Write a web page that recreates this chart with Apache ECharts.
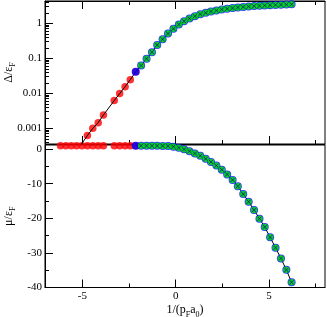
<!DOCTYPE html>
<html><head><meta charset="utf-8">
<script src="https://cdn.jsdelivr.net/npm/echarts@6/dist/echarts.min.js"></script>
<style>html,body{margin:0;padding:0;background:#fff}#c{width:327px;height:317px}</style>
</head><body><div id="c"></div>
<script>
// ---- data ----
const xRed = [-6.17,-5.88,-5.59,-5.31,-5.02,-4.73,-4.44,-4.15,-3.87,-3.29,-3.00,-2.71,-2.43,-2.14];
const deltaRed = [null,null,null,null,null,0.00062,0.0010,0.00145,0.0024,0.0062,0.0098,0.0155,0.0245,0.041];
const muRed = [1.0,1.0,1.0,1.0,1.0,1.0,1.0,1.0,1.0,1.0,1.0,1.0,1.0,0.99];
const xCross = [-2.14,-1.85,-1.56,-1.27,-0.99,-0.70,-0.41,-0.12,0.17,0.45,0.74,1.03,1.32,1.61,1.89,2.18,2.47,2.76,3.05,3.33,3.62,3.91,4.20,4.49,4.77,5.06,5.35,5.64,5.93,6.21];
const deltaCross = [0.041,0.062,0.097,0.15,0.24,0.35,0.51,0.70,0.93,1.15,1.38,1.60,1.82,2.00,2.18,2.33,2.48,2.60,2.72,2.84,2.94,3.02,3.10,3.17,3.24,3.30,3.36,3.41,3.45,3.49];
const muCross = [0.99,0.98,0.97,0.96,0.95,0.94,0.90,0.72,0.42,-0.05,-0.60,-1.25,-1.90,-2.80,-3.70,-4.75,-5.95,-7.30,-8.90,-10.7,-13.0,-15.2,-17.6,-20.1,-22.5,-25.5,-28.5,-31.6,-34.9,-38.5];
const lineStartX = -5.05, lineStartDelta = 0.00035;
const xMajorTicks = [-5,0,5];
const xMinorTicks = [-2.5,2.5,7.5];
const deltaMajorTicks = [0.001,0.01,0.1,1];
const deltaTickLabels = ['0.001','0.01','0.1','1'];
const deltaMinorTicks = [0.0004,0.0005,0.0006,0.0007,0.0008,0.0009,0.002,0.003,0.004,0.005,0.006,0.007,0.008,0.009,0.02,0.03,0.04,0.05,0.06,0.07,0.08,0.09,0.2,0.3,0.4,0.5,0.6,0.7,0.8,0.9,2,3,4];
const muMajorTicks = [-40,-30,-20,-10,0];
const muMinorTicks = [-35,-25,-15,-5];

// ---- chart ----
const FONT = 'Liberation Serif';
const LBL = 11;
const X_MIN = -7, X_MAX = 8;
const D_MIN = 0.000356, D_MAX = 4.34;
const M_MIN = -40, M_MAX = 1.2;

const richName = {a: {fontFamily: FONT, fontSize: 12, color: '#000'}, b: {fontFamily: FONT, fontSize: 8, color: '#000', verticalAlign: 'bottom', lineHeight: 17}};

function xAx(grid, pos, ticks, len, showLine, labels, name) {
  return {
    type: 'value', gridIndex: grid, position: pos, min: X_MIN, max: X_MAX,
    axisLine: {show: showLine, onZero: false, lineStyle: {color: '#000', width: 1}},
    axisTick: {show: true, inside: true, length: len, customValues: ticks, lineStyle: {color: '#000', width: 1}},
    axisLabel: labels ? {show: true, customValues: ticks, margin: 3, color: '#000', fontFamily: FONT, fontSize: LBL} : {show: false},
    splitLine: {show: false},
    name: name || '', nameLocation: 'middle', nameGap: 14, nameMoveOverlap: false,
    nameTextStyle: {color: '#000', fontFamily: FONT, fontSize: 12, rich: richName}
  };
}
function yAx(grid, type, min, max, ticks, len, showLine, labels, labelTexts, name) {
  return {
    type: type, gridIndex: grid, position: 'left', min: min, max: max, logBase: 10,
    axisLine: {show: showLine, onZero: false, lineStyle: {color: '#000', width: 1}},
    axisTick: {show: true, inside: true, length: len, customValues: ticks, lineStyle: {color: '#000', width: 1}},
    axisLabel: labels ? {show: true, customValues: ticks, margin: 3, color: '#000', fontFamily: FONT, fontSize: LBL,
      formatter: function (v) {
        if (labelTexts) {
          let best = 0, bd = Infinity;
          ticks.forEach((t, i) => { const d = Math.abs(Math.log10(t) - Math.log10(v)); if (d < bd) { bd = d; best = i; } });
          return labelTexts[best];
        }
        return String(v);
      }} : {show: false},
    splitLine: {show: false},
    name: name || '', nameLocation: 'middle', nameGap: 28, nameRotate: 90, nameMoveOverlap: false,
    nameTextStyle: {color: '#000', fontFamily: FONT, fontSize: 12, rich: richName}
  };
}

const redTop = xRed.map((x, i) => [x, deltaRed[i]]).filter(p => p[1] !== null);
const redBot = xRed.map((x, i) => [x, muRed[i]]);
const crossTop = xCross.map((x, i) => [x, deltaCross[i]]);
const crossBot = xCross.map((x, i) => [x, muCross[i]]);
const lineTop = [[lineStartX, lineStartDelta]].concat(redTop, crossTop.slice(1));

const xPath = 'path://M0,0L10,10M10,0L0,10';

function markerSeries(xi, yi, red, cross) {
  return [
    {type: 'scatter', xAxisIndex: xi, yAxisIndex: yi, data: red, symbol: 'circle', symbolSize: 7.5, clip: false,
      itemStyle: {color: '#ff0000'}, silent: true, z: 2},
    {type: 'scatter', xAxisIndex: xi, yAxisIndex: yi, data: cross, symbol: 'circle', symbolSize: 8, clip: false,
      itemStyle: {color: '#0000ff'}, silent: true, z: 4},
    {type: 'scatter', xAxisIndex: xi, yAxisIndex: yi, data: cross.slice(1), symbol: 'circle', symbolSize: 6.5, clip: false,
      itemStyle: {color: '#00ee00'}, silent: true, z: 5},
    {type: 'scatter', xAxisIndex: xi, yAxisIndex: yi, data: cross.slice(1), symbol: xPath, symbolSize: 4, clip: false,
      itemStyle: {color: 'none', borderColor: '#000080', borderWidth: 0.8}, silent: true, z: 6}
  ];
}

const option = {
  animation: false,
  backgroundColor: '#fff',
  grid: [
    {left: 45, right: 2, top: 1, height: 143, outerBoundsMode: 'none', containLabel: false, show: true, borderColor: '#000', borderWidth: 1, backgroundColor: 'transparent'},
    {left: 45, right: 2, top: 145, height: 142.5, outerBoundsMode: 'none', containLabel: false, show: true, borderColor: '#000', borderWidth: 1, backgroundColor: 'transparent'}
  ],
  xAxis: [
    xAx(0, 'bottom', xMajorTicks, 8, true, false),
    xAx(0, 'bottom', xMinorTicks, 4, false, false),
    xAx(0, 'top', xMajorTicks, 8, true, false),
    xAx(0, 'top', xMinorTicks, 4, false, false),
    xAx(1, 'bottom', xMajorTicks, 8, true, true, '{a|1/(p}{b|F}{a|a}{b|0}{a|)}'),
    xAx(1, 'bottom', xMinorTicks, 4, false, false)
  ],
  yAxis: [
    yAx(0, 'log', D_MIN, D_MAX, deltaMajorTicks, 8, true, true, deltaTickLabels, '{a|Δ/ε}{b|F}'),
    yAx(0, 'log', D_MIN, D_MAX, deltaMinorTicks, 4, false, false),
    yAx(1, 'value', M_MIN, M_MAX, muMajorTicks, 8, true, true, null, '{a|μ/ε}{b|F}'),
    yAx(1, 'value', M_MIN, M_MAX, muMinorTicks, 4, false, false)
  ],
  series: [].concat(
    markerSeries(0, 0, redTop, crossTop),
    [{type: 'line', xAxisIndex: 0, yAxisIndex: 0, data: lineTop, symbol: 'none', clip: true,
      lineStyle: {color: '#000', width: 1}, silent: true, z: 3}],
    markerSeries(4, 2, redBot, crossBot),
    [{type: 'line', xAxisIndex: 4, yAxisIndex: 2, data: crossBot, symbol: 'none', clip: true,
      lineStyle: {color: '#000', width: 1}, silent: true, z: 3}]
  )
};
const chart = echarts.init(document.getElementById('c'), null, {renderer: 'canvas'});
chart.setOption(option);
</script>
</body></html>
